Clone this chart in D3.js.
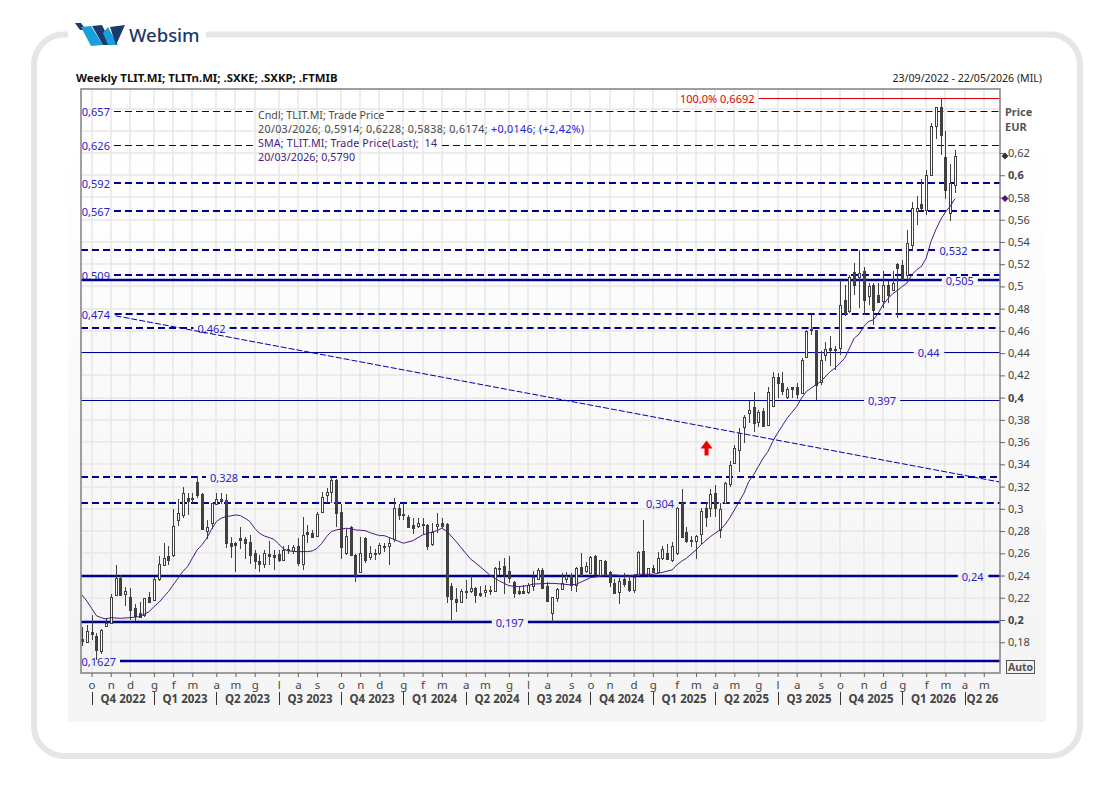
<!DOCTYPE html>
<html>
<head>
<meta charset="utf-8">
<script src="https://cdn.jsdelivr.net/npm/d3@7"></script>
<style>
  html, body { margin: 0; padding: 0; background: #fff; }
  text { font-family: "Noto Sans", sans-serif; }
</style>
</head>
<body>
<div id="chart"></div>
<script>
// weekly candles, one value per week starting 23/09/2022
var opens = [.1829,.1805,.1889,.1856,.1715,.1949,.197,.2231,.2381,.2237,
  .221,.2105,.206,.2039,.2207,.218,.2372,.2495,.2576,.2585,
  .2894,.2945,.3101,.3101,.3242,.3137,.2804,.287,.3044,.3086,
  .308,.269,.2693,.2738,.2729,.2702,.26,.2531,.2504,.2594,
  .2585,.2594,.254,.2639,.2615,.2666,.2504,.2789,.278,.2759,
  .2975,.3119,.3155,.326,.2969,.2606,.2834,.2585,.2435,.2738,
  .2561,.26,.26,.2669,.2669,.2726,.3005,.2951,.293,.2855,
  .284,.2861,.2855,.2684,.284,.287,.2864,.2306,.2186,.2159,
  .2264,.2255,.2285,.2246,.2246,.227,.2261,.2471,.2486,.2441,
  .2339,.2264,.2264,.2255,.2306,.2369,.245,.2306,.206,.2201,
  .2276,.2369,.2405,.2315,.248,.2444,.242,.2579,.2405,.2531,
  .2429,.233,.2249,.2366,.2351,.227,.2405,.2618,.2411,.2465,
  .2429,.2561,.26,.2537,.26,.3053,.2792,.272,.2714,.2777,
  .3005,.3005,.314,.281,.305,.3224,.341,.3536,.3734,.386,
  .3914,.3785,.3884,.3755,.392,.4184,.413,.4001,.4094,.4094,
  .404,.4364,.4616,.4604,.4145,.4382,.4445,.4439,.4448,.488,
  .4775,.5129,.5081,.5141,.4919,.5015,.4925,.4871,.5015,.4964,
  .5204,.5195,.5105,.5375,.568,.5744,.569,.6005,.644,.6614,
  .6164,.566,.5914];
var highs = [.194,.1955,.2045,.188,.1916,.2015,.2231,.2495,.2405,.2294,
  .2285,.2141,.2159,.2201,.2255,.239,.2576,.269,.2666,.2996,
  .3086,.3194,.3146,.3146,.3296,.314,.29,.3056,.314,.314,
  .3134,.2744,.2705,.284,.275,.2765,.263,.2585,.263,.2714,
  .263,.263,.2666,.2675,.2675,.2735,.293,.2855,.281,.2969,
  .3155,.3185,.3284,.3269,.3041,.2816,.2846,.2594,.275,.275,
  .2666,.2636,.269,.269,.2735,.3095,.3041,.305,.2945,.2915,
  .2921,.2915,.2861,.287,.296,.2921,.287,.233,.2291,.2279,
  .236,.2399,.23,.2309,.2315,.2309,.248,.2531,.2555,.2576,
  .2351,.2309,.2315,.233,.2441,.2465,.2465,.2345,.221,.2285,
  .242,.2429,.242,.248,.26,.2525,.2579,.2585,.2543,.2537,
  .2441,.2366,.2375,.242,.2405,.2411,.2621,.29,.2465,.2495,
  .2615,.2666,.2681,.2705,.302,.3176,.284,.2759,.2765,.3005,
  .305,.3176,.3212,.3056,.3245,.3434,.3575,.3725,.3845,.3974,
  .4049,.389,.3905,.4094,.4229,.422,.4229,.41,.41,.413,
  .4355,.461,.4754,.461,.4415,.4496,.4556,.446,.5054,.5015,
  .5105,.521,.533,.5171,.503,.503,.503,.5135,.5045,.5135,
  .521,.524,.551,.5759,.581,.5969,.605,.647,.6614,.6692,
  .6401,.6104,.6228];
var lows = [.1766,.1799,.182,.164,.1691,.194,.197,.2225,.2216,.2126,
  .2,.1994,.2015,.2024,.2156,.2174,.2354,.2486,.2495,.257,
  .2846,.2915,.2945,.305,.3095,.281,.2726,.2816,.3035,.3044,
  .2651,.2555,.2435,.2639,.2546,.2501,.2459,.2435,.2465,.2495,
  .245,.2525,.2531,.2591,.2594,.2486,.245,.269,.2735,.2756,
  .2969,.305,.305,.284,.2546,.2585,.2576,.2345,.242,.2516,
  .254,.254,.2585,.2609,.2495,.2699,.29,.29,.2834,.2771,
  .2825,.2771,.263,.2669,.278,.2825,.215,.2,.2069,.215,
  .2189,.224,.215,.2204,.221,.2225,.2255,.2405,.2231,.233,
  .2201,.2225,.2231,.2234,.2261,.236,.2285,.2165,.1985,.2165,
  .227,.233,.2264,.2249,.2399,.242,.2411,.2411,.2399,.2399,
  .23,.2231,.2147,.23,.2249,.224,.2399,.2405,.239,.242,
  .242,.254,.254,.2519,.2585,.2735,.269,.266,.2546,.2684,
  .284,.2924,.293,.2735,.305,.32,.3401,.3335,.359,.3776,
  .3695,.3734,.3734,.3746,.3914,.3995,.4025,.3986,.3995,.3986,
  .4034,.4355,.4565,.398,.4115,.4325,.4286,.425,.4385,.473,
  .476,.4925,.4805,.4745,.4835,.4655,.485,.4805,.485,.4955,
  .4715,.506,.506,.533,.555,.569,.5645,.599,.6329,.6185,
  .5789,.5585,.5838];
var closes = [.1808,.1904,.1874,.173,.1907,.1976,.2207,.2381,.2231,.2261,
  .209,.203,.2024,.2195,.2162,.2369,.2504,.2555,.254,.2846,
  .296,.314,.3071,.3089,.3125,.2825,.284,.305,.3086,.3065,
  .2696,.2666,.2678,.272,.2696,.2585,.2525,.2504,.26,.2576,
  .257,.254,.263,.2627,.2654,.2516,.2762,.2774,.2741,.2954,
  .311,.3149,.326,.2966,.2654,.2756,.2582,.2405,.2606,.254,
  .26,.2588,.2675,.266,.2693,.3005,.2945,.2939,.284,.2831,
  .287,.2849,.2669,.2795,.2861,.284,.2219,.2189,.2159,.2261,
  .2255,.2285,.2219,.2225,.2267,.2264,.2465,.2459,.2411,.2375,
  .224,.2249,.2249,.2315,.239,.245,.2291,.2171,.2204,.2279,
  .233,.2399,.2315,.2471,.2411,.2486,.2567,.242,.2537,.2411,
  .2339,.224,.2351,.2321,.227,.239,.2615,.2411,.2465,.2429,
  .2555,.2639,.2549,.2666,.3005,.2744,.2714,.2714,.2756,.2981,
  .2921,.3134,.3005,.2999,.3233,.3395,.3545,.3686,.3824,.3887,
  .377,.3872,.3746,.4049,.4184,.413,.4055,.4076,.4076,.4034,
  .434,.4601,.4604,.4106,.434,.4436,.4427,.4433,.4835,.476,
  .5084,.5015,.512,.488,.5006,.479,.4859,.5015,.4925,.503,
  .5171,.5066,.539,.5705,.5705,.5705,.6005,.6446,.6614,.6359,
  .5864,.593,.6174];

// SMA 14, week number and value
var smaWeeks = [0,1,2,3,4,5,6,8,10,12,14,15,16,18,19,20,21,22,23,24,25,26,27,28,29,30,
  31,32,33,34,35,36,37,38,39,40,41,42,43,45,47,48,49,50,51,52,53,55,56,57,59,60,62,
  63,65,67,69,71,74,75,76,78,80,81,83,85,87,89,91,93,
  94,96,98,100,102,103,105,106,109,111,114,116,119,121,123,124,
  125,126,128,129,131,133,134,135,137,138,139,140,141,142,143,144,145,147,149,150,151,153,154,156,
  157,158,159,160,161,162,163,164,165,166,167,168,169,170,171,172,173,174,175,176,177,178,179,180,181,182];
var smaValues = [.2225,.2171,.2105,.2039,.2021,.2009,.2021,.2015,.2021,.203,.2075,.212,.2156,.2255,.2315,.2375,.2435,.248,.2555,.263,.2675,.2735,.2816,.2885,.2915,.293,
  .2936,.2945,.2939,.2915,.2885,.2825,.278,.2756,.2741,.2726,.2684,.2639,.2621,.2615,.2615,.2621,.2645,.269,.275,.2795,.281,.2825,.2822,.281,.2804,.2786,.2759,
  .2759,.2726,.269,.2714,.2765,.2804,.2825,.2801,.2705,.26,.2549,.248,.2405,.2351,.2309,.23,.2309,
  .2323,.2327,.233,.2324,.2315,.2321,.236,.2381,.2399,.2405,.2393,.2411,.2411,.2429,.245,.2495,
  .2528,.2555,.263,.2675,.275,.281,.2855,.2915,.3065,.314,.3245,.3305,.338,.3455,.3515,.3605,.368,.3815,.392,.3995,.4055,.4115,.4145,.4235,
  .4265,.431,.4355,.4445,.4535,.4571,.464,.4685,.47,.476,.4835,.4889,.4934,.4964,.5,.503,.5105,.515,.518,.5255,.5405,.551,.56,.5669,.572,.579];

// horizontal levels: value of the line and the label printed on it
var levelValues = [.6577,.6269,.5933,.568,.533,.5105,.5055,.475,.463,.4408,.398,.3287,.3053,.24,.1983,.163];
var levelLabels = ["0,657","0,626","0,592","0,567","0,532","0,509","0,505","0,474","0,462","0,44","0,397","0,328","0,304","0,24","0,197","0,1627"];
var levelLabelWeeks = [2.9,2.9,2.9,2.9,181.7,2.9,183,2.9,27,176.5,166.8,29.6,120.5,185.7,89.2,3.5];

var trendWeeks = [7, 191.2];
var trendValues = [.4736, .3242];

var priceTicks = [.18,.2,.22,.24,.26,.28,.3,.32,.34,.36,.38,.4,.42,.44,.46,.48,.5,.52,.54,.56,.58,.6,.62];
var gridPrices = [.18,.2,.22,.24,.26,.28,.3,.32,.34,.36,.38,.4,.42,.44,.46,.48,.5,.52,.54,.56,.58,.6,.62,.64,.66];
var monthLabels = ["o","n","d","g","f","m","a","m","g","l","a","s","o","n","d","g","f","m","a","m","g","l","a","s","o","n","d","g","f","m","a","m","g","l","a","s","o","n","d","g","f","m","a","m"];
var quarterLabels = ["Q4 2022","Q1 2023","Q2 2023","Q3 2023","Q4 2023","Q1 2024","Q2 2024","Q3 2024","Q4 2024","Q1 2025","Q2 2025","Q3 2025","Q4 2025","Q1 2026","Q2 26"];

var peakLabel = "100,0% 0,6692", peakValue = .6692;
var lastSma = .579;
var arrowWeek = 130.2, arrowPrice = .3615;

var margin = { top: 89, right: 114, bottom: 117, left: 81 },
    width = 1114 - margin.left - margin.right,
    height = 790 - margin.top - margin.bottom;

var svg = d3.select("#chart").append("svg")
    .attr("width", 1114).attr("height", 790)
    .style("display", "block");

var defs = svg.append("defs");
var grad = defs.append("linearGradient").attr("id", "panelBg")
    .attr("x1", 0).attr("x2", 0).attr("y1", 0).attr("y2", 1);
grad.append("stop").attr("offset", "0.1").attr("stop-color", "#ffffff");
grad.append("stop").attr("offset", "0.85").attr("stop-color", "#f5f5f5");

// frame and panel behind the chart
svg.append("rect").attr("x", 34).attr("y", 34.5).attr("width", 1046).attr("height", 721.5)
    .attr("rx", 30).attr("fill", "none").attr("stroke", "#e6e6e6").attr("stroke-width", 6);
svg.append("rect").attr("x", 68).attr("y", 20).attr("width", 138).attr("height", 30).attr("fill", "#fff");
svg.append("rect").attr("x", 68).attr("y", 62).attr("width", 978).attr("height", 660).attr("fill", "url(#panelBg)");

// logo
var logo = svg.append("g");
logo.append("polygon").attr("points", "75,23 81,23 86,30 80,30").attr("fill", "#1b3a6b");
logo.append("polygon").attr("points", "81,27 91,26 103,45 91,46").attr("fill", "#18a0dc");
logo.append("polygon").attr("points", "92,26 102,25 112,45 103,45").attr("fill", "#1b3a6b");
logo.append("polygon").attr("points", "103,33 108,27 118,45 108,45").attr("fill", "#18a0dc");
logo.append("polygon").attr("points", "110,27 125,25 116,45").attr("fill", "#1b3a6b");
logo.append("text").attr("x", 129).attr("y", 42).attr("font-size", 18.5).attr("font-weight", 500)
    .attr("fill", "#1b3a6b").text("Websim");

// titles
svg.append("text").attr("x", 76).attr("y", 82).attr("font-size", 11.4).attr("font-weight", "bold")
    .attr("fill", "#111").text("Weekly TLIT.MI; TLITn.MI; .SXKE; .SXKP; .FTMIB");
svg.append("text").attr("x", 1042).attr("y", 82).attr("font-size", 10.6).attr("text-anchor", "end")
    .attr("fill", "#222").text("23/09/2022 - 22/05/2026 (MIL)");

var startDate = new Date(2022, 8, 23);
function weekDate(k) { return d3.timeHour.offset(startDate, k * 7 * 24); }
var weeks = d3.range(opens.length).map(weekDate);

var x = d3.scaleTime().domain([weekDate(0), weekDate(182)]).range([82, 955]);
var y = d3.scaleLinear().domain([.2, .62]).range([620, 153]);
var plotLeft = margin.left, plotRight = margin.left + width, plotTop = margin.top, plotBottom = margin.top + height;

// first weekly bar of each month carries the month tick
var monthTicks = [];
for (var k = 1; k <= 190; k++) {
    if (weekDate(k).getMonth() !== weekDate(k - 1).getMonth()) monthTicks.push(weekDate(k));
}
monthTicks = monthTicks.slice(0, monthLabels.length);
var quarterTicks = monthTicks.filter(function (d) { return d.getMonth() % 3 === 0; });

// grid
svg.append("g").selectAll("line").data(gridPrices).enter().append("line")
    .attr("x1", plotLeft).attr("x2", plotRight)
    .attr("y1", function (d) { return Math.round(y(d)); }).attr("y2", function (d) { return Math.round(y(d)); })
    .attr("stroke", "#e7e7e7").attr("stroke-width", 1.5);
svg.append("g").selectAll("line").data(monthTicks).enter().append("line")
    .attr("x1", function (d) { return Math.round(x(d)); }).attr("x2", function (d) { return Math.round(x(d)); })
    .attr("y1", plotTop).attr("y2", plotBottom)
    .attr("stroke", "#e7e7e7").attr("stroke-width", 1.5);

// legend text goes first so the level lines can stop around it
var legendColor = "#4a4a4a", smaColor = "#4b1a7e", labelColor = "#2a22c8", lineColor = "#000090";
var legend = svg.append("g").attr("font-size", 10.7);
var legendLines = [
    { t: "Cndl; TLIT.MI; Trade Price", c: legendColor, y: 119 },
    { t: "20/03/2026; 0,5914; 0,6228; 0,5838; 0,6174; ", c: legendColor, y: 133, extra: "+0,0146; (+2,42%)", len: 326 },
    { t: "SMA; TLIT.MI; Trade Price(Last);  14", c: smaColor, y: 147, len: 179 },
    { t: "20/03/2026; 0,5790", c: smaColor, y: 161, len: 97 }
];
legendLines.forEach(function (l) {
    var t = legend.append("text").attr("x", 258).attr("y", l.y).attr("fill", l.c).attr("xml:space", "preserve").text(l.t);
    if (l.extra) t.append("tspan").attr("fill", "#1a22e0").text(l.extra);
    if (l.len) t.attr("textLength", l.len).attr("lengthAdjust", "spacing");
    l.node = t.node();
});

// levels, each line is split around its own label
var isDashed = [1,1,1,1,1,1,0,1,1,0,0,1,1,0,0,0];
var isThick = [0,0,1,1,1,1,1,1,1,0,0,1,1,1,1,1];
var levelG = svg.append("g");
levelValues.forEach(function (v, i) {
    var ly = Math.round(y(v));
    var lineY = isThick[i] ? ly : ly + 0.5;
    var label = levelG.append("text").attr("x", x(weekDate(levelLabelWeeks[i]))).attr("y", ly + 5)
        .attr("text-anchor", "middle").attr("font-size", 11).attr("fill", labelColor).text(levelLabels[i]);
    var box = label.node().getBBox();
    var gaps = [[box.x - 4, box.x + box.width + 4]];
    // the two upper lines also stop at the legend
    if (i === 0) { var b0 = legendLines[0].node.getBBox(); gaps.push([b0.x - 3, b0.x + b0.width + 2]); }
    if (i === 1) { var b2 = legendLines[2].node.getBBox(); gaps.push([b2.x - 3, b2.x + b2.width + 5]); }
    var from = plotLeft;
    gaps.concat([[plotRight, plotRight]]).forEach(function (g) {
        if (g[0] > from) {
            levelG.append("line").attr("x1", from).attr("x2", g[0]).attr("y1", lineY).attr("y2", lineY)
                .attr("stroke", lineColor).attr("stroke-width", isThick[i] ? (isDashed[i] ? 2 : 2.5) : 1)
                .attr("stroke-dasharray", isDashed[i] ? "7,4" : null);
        }
        from = Math.max(from, g[1]);
    });
});

// peak line
var peakY = Math.round(y(peakValue)) + 0.5;
var peakText = svg.append("text").attr("x", 680).attr("y", peakY + 4).attr("font-size", 11)
    .attr("fill", "#e00000").text(peakLabel);
svg.append("line").attr("x1", peakText.node().getBBox().x + peakText.node().getBBox().width + 4)
    .attr("x2", plotRight).attr("y1", peakY).attr("y2", peakY).attr("stroke", "#d80000").attr("stroke-width", 1);

// trend line
svg.append("path").datum(trendWeeks)
    .attr("fill", "none").attr("stroke", "#0000a8").attr("stroke-width", 1).attr("stroke-dasharray", "6,2")
    .attr("d", d3.line()
        .x(function (d) { return x(weekDate(d)); })
        .y(function (d, i) { return y(trendValues[i]); }));

// candles
var candleColor = "#404040";
var candle = svg.append("g").selectAll("g").data(weeks).enter().append("g")
    .attr("transform", function (d) { return "translate(" + Math.round(x(d)) + ",0)"; });
candle.append("line")
    .attr("x1", 0.5).attr("x2", 0.5)
    .attr("y1", function (d, i) { return Math.round(y(highs[i])); })
    .attr("y2", function (d, i) { return Math.round(y(lows[i])); })
    .attr("stroke", candleColor).attr("stroke-width", 1);
candle.append("rect")
    .attr("x", -0.5).attr("width", 2)
    .attr("y", function (d, i) { return Math.round(y(Math.max(opens[i], closes[i]))) + 0.5; })
    .attr("height", function (d, i) { return Math.max(1, Math.round(Math.abs(y(opens[i]) - y(closes[i])))); })
    .attr("fill", function (d, i) { return closes[i] >= opens[i] ? "#fff" : candleColor; })
    .attr("stroke", candleColor).attr("stroke-width", 1);

// SMA
svg.append("path").datum(smaWeeks)
    .attr("fill", "none").attr("stroke", smaColor).attr("stroke-width", 1)
    .attr("d", d3.line()
        .x(function (d) { return x(weekDate(d)); })
        .y(function (d, i) { return y(smaValues[i]); }));

// red arrow
svg.append("path")
    .attr("transform", "translate(" + x(weekDate(arrowWeek)) + "," + y(arrowPrice) + ")")
    .attr("d", "M0,0L6,8H2V15H-2V8H-6Z").attr("fill", "#ee0000");

// plot box
svg.append("rect").attr("x", plotLeft).attr("y", plotTop).attr("width", width).attr("height", height)
    .attr("fill", "none").attr("stroke", "#808080").attr("stroke-width", 1.5);

// y axis
var yAxis = svg.append("g").attr("transform", "translate(" + plotRight + ",0)")
    .call(d3.axisRight(y).tickValues(priceTicks).tickSize(5)
        .tickFormat(function (d) { return d3.format(".2~f")(d).replace(".", ","); }));
yAxis.select(".domain").remove();
yAxis.selectAll("line").attr("stroke", "#666");
yAxis.selectAll("text").attr("x", 8).attr("font-size", 11).attr("fill", "#444")
    .attr("font-weight", function (d) { return [.2, .4, .6].indexOf(d) >= 0 ? "bold" : "normal"; });
svg.append("text").attr("x", 1005).attr("y", 116).attr("font-size", 11).attr("font-weight", "bold").attr("fill", "#555").text("Price");
svg.append("text").attr("x", 1005).attr("y", 131).attr("font-size", 11).attr("font-weight", "bold").attr("fill", "#555").text("EUR");

// last value markers
var markerData = [closes[closes.length - 1], lastSma];
svg.append("g").selectAll("path").data(markerData).enter().append("path")
    .attr("transform", function (d) { return "translate(" + (plotRight + 5) + "," + y(d) + ")"; })
    .attr("d", "M0,-3.5L3.5,0L0,3.5L-3.5,0Z")
    .attr("fill", function (d, i) { return i === 0 ? "#333" : smaColor; });

// Auto box
svg.append("rect").attr("x", 1006.5).attr("y", 660.5).attr("width", 28).attr("height", 13)
    .attr("fill", "#f2f2f2").attr("stroke", "#555");
svg.append("text").attr("x", 1020.5).attr("y", 671).attr("text-anchor", "middle").attr("font-size", 10.5)
    .attr("font-weight", "bold").attr("fill", "#555").text("Auto");

// x axis, month letters
var xAxis = svg.append("g").attr("transform", "translate(0," + plotBottom + ")")
    .call(d3.axisBottom(x).tickValues(monthTicks).tickSize(4)
        .tickFormat(function (d, i) { return monthLabels[i]; }));
xAxis.select(".domain").remove();
xAxis.selectAll("line").attr("stroke", "#666");
xAxis.selectAll("text").attr("y", 8).attr("font-size", 11.5).attr("fill", "#444");

// quarter labels and separators
var quarterG = svg.append("g");
quarterTicks.forEach(function (d, i) {
    var left = Math.round(x(d)), right = i + 1 < quarterTicks.length ? Math.round(x(quarterTicks[i + 1])) : plotRight;
    quarterG.append("line").attr("x1", left + 0.5).attr("x2", left + 0.5).attr("y1", 692).attr("y2", 705)
        .attr("stroke", "#333").attr("stroke-width", 1);
    quarterG.append("text").attr("x", (left + right) / 2).attr("y", 703).attr("text-anchor", "middle")
        .attr("font-size", 11.5).attr("font-weight", "bold").attr("fill", "#444").text(quarterLabels[i]);
});
</script>
</body>
</html>
